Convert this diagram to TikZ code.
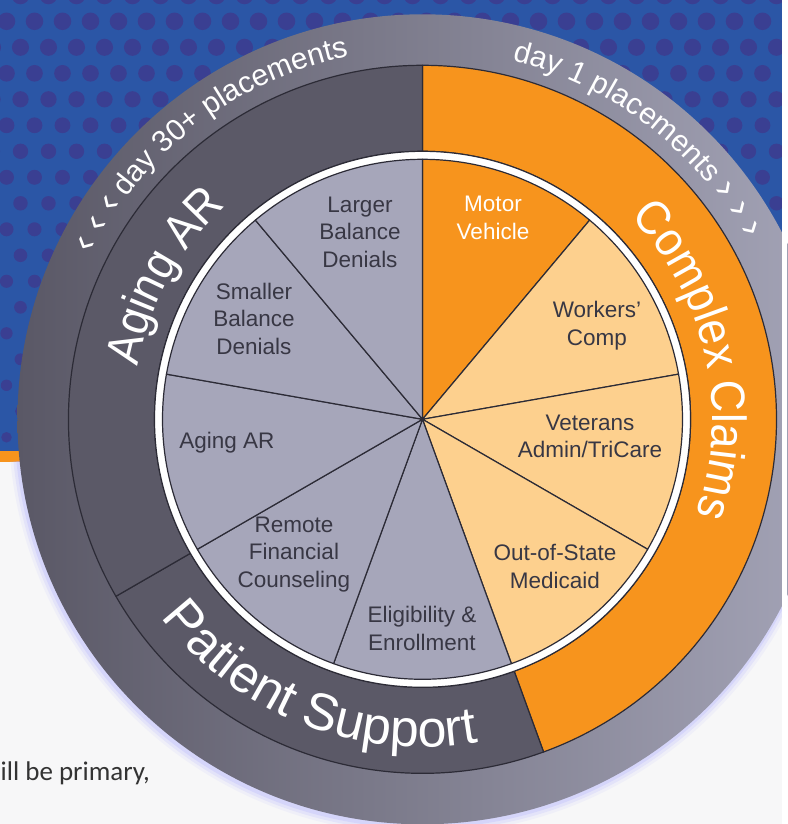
\documentclass[tikz,border=0pt]{standalone}
\usepackage{fontspec}
\setmainfont{Liberation Sans}
\newfontfamily\notefont{Carlito}
\newfontfamily\ringfamily[FakeStretch=0.92]{Liberation Sans}
\usetikzlibrary{decorations.text}
\definecolor{bgblue}{HTML}{2B56A6}
\definecolor{dotblue}{HTML}{3A3F92}
\definecolor{ringdark}{HTML}{5B5967}
\definecolor{ringleft}{HTML}{5A5866}
\definecolor{ringright}{HTML}{A4A4B7}
\definecolor{claimorange}{HTML}{F7941D}
\definecolor{claimlight}{HTML}{FDD08E}
\definecolor{piegray}{HTML}{A6A6BA}
\definecolor{linedark}{HTML}{2C2B36}
\definecolor{labeltext}{HTML}{383744}
\definecolor{paper}{HTML}{F7F7F8}
\newcommand\ringfont{\ringfamily\fontsize{48}{48}\selectfont}
\newcommand\supportfont{\fontsize{52}{52}\selectfont}
\newcommand\arcfont{\fontsize{30}{30}\selectfont}
\newcommand\chevfont{\fontsize{38}{38}\selectfont}

\begin{document}
\begin{tikzpicture}[x=1pt,y=1pt,
    slice/.style={fill=#1, draw=linedark, line width=1.2pt, line join=round},
    pielabel/.style={align=center, text=labeltext, inner sep=0pt, font=\fontsize{22.5}{27.5}\selectfont}]
    \useasboundingbox (-422.5,-404.7) rectangle (364.5,419.3);
    \fill[paper] (-422.5,-404.7) rectangle (364.5,419.3);
    \fill[bgblue] (-422.5,-31.7) rectangle (359.5,419.3);
    \begin{scope}
      \clip (-422.5,-31.7) rectangle (359.5,419.3);
      \foreach \j in {0,...,17}
        \foreach \i in {0,...,30}
          \fill[dotblue] ({-430+\i*28+mod(\j,2)*14},{424-\j*26}) circle[radius={9-0.22*\j}];
    \end{scope}
    \fill[claimorange] (-422.5,-42.7) rectangle (-300,-31.7);

    \begin{scope}
      \clip (-422.5,-42.7) rectangle (364.5,-404.7);
      \foreach \r/\o in {413/0.10,410/0.18,407/0.28}
        \fill[blue!30!white, opacity=\o] (-1,-2) circle[radius=\r];
    \end{scope}
    \shade[left color=ringleft, right color=ringright] (0,0) circle[radius=405];

    \draw[slice=claimorange] (90:354) arc[start angle=90, end angle=-70, radius=354]
      -- (-70:268) arc[start angle=-70, end angle=90, radius=268] -- cycle;
    \draw[slice=ringdark] (-70:354) arc[start angle=-70, end angle=-150, radius=354]
      -- (-150:268) arc[start angle=-150, end angle=-70, radius=268] -- cycle;
    \draw[slice=ringdark] (210:354) arc[start angle=210, end angle=90, radius=354]
      -- (90:268) arc[start angle=90, end angle=210, radius=268] -- cycle;

    \draw[fill=white, draw=linedark, line width=1.2pt] (0,0) circle[radius=268];
    \foreach \a/\c in {90/claimorange, 50/claimlight, 10/claimlight, -30/claimlight,
        -70/piegray, -110/piegray, -150/piegray, 170/piegray, 130/piegray}
      \draw[slice=\c] (0,0) -- (\a:260) arc[start angle=\a, delta angle=-40, radius=260] -- cycle;

    \node[pielabel] (larger) at (-62.5,187.3) {Larger\\Balance\\Denials};
    \node[pielabel, text=white] (motor) at (70.5,201.3) {Motor\\Vehicle};
    \node[pielabel] (smaller) at (-168.5,100.8) {Smaller\\Balance\\Denials};
    \node[pielabel] (workers) at (174.5,93.8) {Workers'\\Comp};
    \node[pielabel] (agingar) at (-195.5,-23.7) {Aging AR};
    \node[pielabel] (veterans) at (167.5,-17.2) {Veterans\\Admin/TriCare};
    \node[pielabel] (remote) at (-128.5,-135.2) {Remote\\Financial\\Counseling};
    \node[pielabel] (outofstate) at (132.5,-147.2) {Out-of-State\\Medicaid};
    \node[pielabel] (eligibility) at (-0.5,-209.2) {Eligibility \&\\Enrollment};

    \path[decorate, decoration={text along path, text align=center, text color=white,
        text={|\ringfont|Aging AR}}] (180:290) arc[start angle=180, end angle=122, radius=290];
    \path[decorate, decoration={text along path, text align=center, text color=white,
        text={|\ringfont|Complex Claims}}] (60:290) arc[start angle=60, end angle=-35, radius=290];
    \path[decorate, decoration={text along path, text align=center, text color=white,
        text={|\supportfont|Patient Support}}] (-156.5:328) arc[start angle=-156.5, end angle=-66.5, radius=328];
    \path[decorate, decoration={text along path, text align=center, text color=white,
        text={|\chevfont|‹ ‹ ‹|\arcfont| day 30+ placements}}] (175:370) arc[start angle=175, end angle=80, radius=370];
    \path[decorate, decoration={text along path, text align=center, text color=white,
        text={|\arcfont|day 1 placements |\chevfont|› › ›}}] (100:370) arc[start angle=100, end angle=5, radius=370];

    \node[anchor=base west, inner sep=0pt, text=black!80, font=\notefont\fontsize{27}{27}\selectfont] (note) at (-422,-360.7) {ill be primary,};
    \fill[white] (359.5,-404.7) rectangle (364.5,419.3);
\end{tikzpicture}
\end{document}
